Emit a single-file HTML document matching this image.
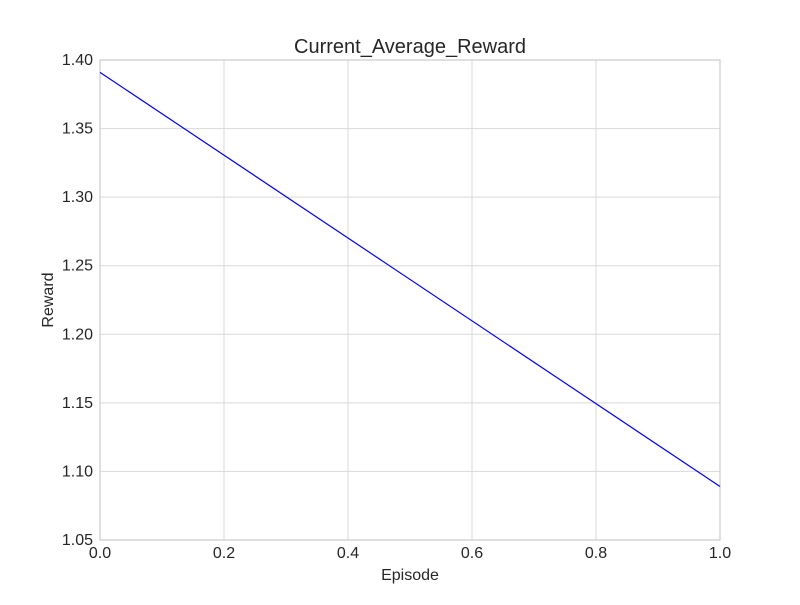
<!DOCTYPE html>
<html><head><meta charset="utf-8"><style>
body{margin:0;background:#fff;}
svg text{font-family:"Liberation Sans",sans-serif;fill:#262626;}
</style></head><body>
<svg id="chart" width="800" height="600"></svg>
<script>
const episodes=[0,1];
const rewards=[1.391,1.089];
const xTicks=[0,0.2,0.4,0.6,0.8,1.0];
const yTicks=[1.05,1.10,1.15,1.20,1.25,1.30,1.35,1.40];
const X0=100,X1=720,Y0=540,Y1=60;
const xs=v=>X0+(v-0)/(1-0)*(X1-X0);
const ys=v=>Y0-(v-1.05)/(1.40-1.05)*(Y0-Y1);
const svg=document.getElementById('chart');
const NS='http://www.w3.org/2000/svg';
function mk(t,a){const e=document.createElementNS(NS,t);for(const k in a)e.setAttribute(k,a[k]);svg.appendChild(e);return e;}
const bg=mk('rect',{x:X0,y:Y1,width:X1-X0,height:Y0-Y1,fill:'#fff'});


xTicks.forEach(v=>{
  const g=mk('line',{x1:xs(v),x2:xs(v),y1:Y1,y2:Y0,stroke:'#d9d9d9','stroke-width':1});
  
  
  const t=mk('text',{x:xs(v),y:Y0+18,'text-anchor':'middle','font-size':16});
  t.textContent=v.toFixed(1);
  
  
});
yTicks.forEach(v=>{
  const g=mk('line',{x1:X0,x2:X1,y1:ys(v),y2:ys(v),stroke:'#d9d9d9','stroke-width':1});
  
  
  const t=mk('text',{x:X0-7,y:ys(v)+5,'text-anchor':'end','font-size':16});
  t.textContent=v.toFixed(2);
  
  
});
const fr=mk('rect',{x:X0,y:Y1,width:X1-X0,height:Y0-Y1,fill:'none',stroke:'#cccccc','stroke-width':1.2});


const pts=episodes.map((e,i)=>xs(e)+','+ys(rewards[i])).join(' ');
const ln=mk('polyline',{points:pts,fill:'none',stroke:'#0000ff','stroke-width':1.2});


const title=mk('text',{x:410,y:53,'text-anchor':'middle','font-size':20});
title.textContent='Current_Average_Reward';


const xl=mk('text',{x:410,y:580,'text-anchor':'middle','font-size':16});
xl.textContent='Episode';


const yl=mk('text',{x:53,y:300,'text-anchor':'middle','font-size':16,transform:'rotate(-90 53 300)'});
yl.textContent='Reward';


</script>
</body></html>
